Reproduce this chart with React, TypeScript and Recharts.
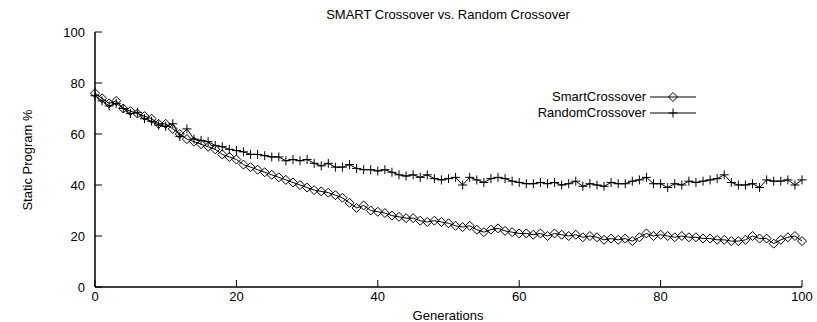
import React from 'react';
import { LineChart, Line, XAxis, YAxis } from 'recharts';

const generations = Array.from({ length: 101 }, (_, i) => i);

const smartValues = [
  76, 74, 72, 73, 70, 69, 68, 67, 66, 64,
  64, 62, 60, 58, 57, 56, 55, 54, 52, 51,
  50, 48, 47, 46, 45, 44, 43, 42, 41, 40,
  39, 38, 37.5, 37, 36, 35, 33, 31, 32, 30,
  29.5, 29, 28, 27.5, 27, 27, 26, 25.5, 26, 25.5,
  25, 24, 23.5, 24, 22.5, 21.5, 22.5, 23, 22, 21.5,
  21, 21, 20.5, 21, 20, 21, 20.5, 20, 20.5, 19.5,
  20, 19.5, 18.5, 19, 18.5, 19, 18, 19.5, 21, 20,
  20.5, 20, 19.5, 20, 19.5, 19.5, 19, 19, 18.5, 18.5,
  18, 18, 18.5, 20, 19, 19, 17, 18.5, 19.5, 20,
  18,
];

const randomValues = [
  75, 73, 71, 72, 70, 68, 68.5, 66, 65, 63.5,
  63, 64, 59, 62, 58, 57.5, 57, 55.5, 55, 54,
  53.5, 53, 52, 52, 51.5, 51, 51, 49.5, 50, 49.5,
  50, 48.5, 47.5, 48.5, 47, 47, 48, 46.5, 46, 46,
  45.5, 46, 45, 44, 43.5, 44, 43, 44, 42.5, 42,
  42.5, 43, 40, 43, 42, 41, 42.5, 43, 42.5, 41.5,
  41, 40.5, 40.5, 41, 40.5, 41, 40, 40.5, 41.5, 39.5,
  40.5, 40, 39.5, 41, 40.5, 40.5, 41.5, 42, 43, 40.5,
  40.5, 39, 40.5, 40, 41.5, 41, 41.5, 42, 42.5, 44,
  41, 40, 40, 40.5, 39, 42, 41.5, 41.5, 42, 40,
  42,
];

const xTicks = [0, 20, 40, 60, 80, 100];
const yTicks = [0, 20, 40, 60, 80, 100];

const data = generations.map((g, i) => ({
  gen: g,
  smart: smartValues[i],
  random: randomValues[i],
}));

const FONT = '"Liberation Sans", Arial, Helvetica, sans-serif';
const TICK = 7;

const BottomTick = (props: any) => {
  const { x, y, payload } = props;
  return (
    <g>
      <line x1={x} x2={x} y1={y} y2={y - TICK} stroke="#000" />
      <text x={x} y={y + 14} textAnchor="middle" fontSize={13} fontFamily={FONT} fill="#000">
        {payload.value}
      </text>
    </g>
  );
};

const TopTick = (props: any) => {
  const { x, y } = props;
  return <line x1={x} x2={x} y1={y} y2={y + TICK} stroke="#000" />;
};

const LeftTick = (props: any) => {
  const { x, y, payload } = props;
  return (
    <g>
      <line x1={x} x2={x + TICK} y1={y} y2={y} stroke="#000" />
      <text x={x - 10} y={y + 4.5} textAnchor="end" fontSize={13} fontFamily={FONT} fill="#000">
        {payload.value}
      </text>
    </g>
  );
};

const RightTick = (props: any) => {
  const { x, y } = props;
  return <line x1={x} x2={x - TICK} y1={y} y2={y} stroke="#000" />;
};

const Diamond = (props: any) => {
  const { cx, cy } = props;
  if (cx == null || cy == null) return null;
  const r = 4.5;
  return (
    <path
      d={`M${cx},${cy - r}L${cx + r},${cy}L${cx},${cy + r}L${cx - r},${cy}Z`}
      fill="none"
      stroke="#000"
      strokeWidth={1}
    />
  );
};

const Plus = (props: any) => {
  const { cx, cy } = props;
  if (cx == null || cy == null) return null;
  const r = 4.5;
  return (
    <path
      d={`M${cx - r},${cy}L${cx + r},${cy}M${cx},${cy - r}L${cx},${cy + r}`}
      stroke="#000"
      strokeWidth={1}
    />
  );
};

// title, y label and key drawn at fixed spots, gnuplot style
const Decorations = () => (
  <g>
    <text
      x={32}
      y={160}
      textAnchor="middle"
      fontSize={13}
      fontFamily={FONT}
      transform="rotate(-90 32 160)"
    >
      Static Program %
    </text>
    <text x={448} y={19} textAnchor="middle" fontSize={13} fontFamily={FONT}>
      SMART Crossover vs. Random Crossover
    </text>
    <text x={646} y={101} textAnchor="end" fontSize={13} fontFamily={FONT}>SmartCrossover</text>
    <line x1={650} x2={696} y1={97} y2={97} stroke="#000" />
    <Diamond cx={673} cy={97} />
    <text x={646} y={117} textAnchor="end" fontSize={13} fontFamily={FONT}>RandomCrossover</text>
    <line x1={650} x2={696} y1={113} y2={113} stroke="#000" />
    <Plus cx={673} cy={113} />
  </g>
);

export default function App() {
  return (
    <div style={{ position: 'absolute', left: 0, top: 0, width: 817, height: 322, background: '#fff' }}>
      <LineChart
        width={817}
        height={322}
        data={data}
        margin={{ top: 32, right: 15, bottom: 0, left: 0 }}
      >
        <XAxis
          dataKey="gen"
          type="number"
          domain={[0, 100]}
          ticks={xTicks}
          tick={<BottomTick />}
          tickLine={false}
          tickSize={0}
          tickMargin={0}
          height={35}
          axisLine={{ stroke: '#000', strokeWidth: 1.5 }}
          label={{
            content: () => (
              <text x={448} y={320} textAnchor="middle" fontSize={13} fontFamily={FONT}>
                Generations
              </text>
            ),
          }}
        />
        <XAxis
          xAxisId="top"
          dataKey="gen"
          type="number"
          orientation="top"
          domain={[0, 100]}
          ticks={xTicks}
          tick={<TopTick />}
          tickLine={false}
          tickSize={0}
          tickMargin={0}
          height={0}
          axisLine={{ stroke: '#000', strokeWidth: 1.5 }}
        />
        <YAxis
          type="number"
          domain={[0, 100]}
          ticks={yTicks}
          tick={<LeftTick />}
          tickLine={false}
          tickSize={0}
          tickMargin={0}
          width={95}
          axisLine={{ stroke: '#000', strokeWidth: 1.5 }}
          label={{ content: () => <Decorations /> }}
        />
        <YAxis
          yAxisId="right"
          orientation="right"
          type="number"
          domain={[0, 100]}
          ticks={yTicks}
          tick={<RightTick />}
          tickLine={false}
          tickSize={0}
          tickMargin={0}
          width={0}
          axisLine={{ stroke: '#000', strokeWidth: 1.5 }}
        />
        <Line
          type="linear"
          dataKey="smart"
          stroke="#000"
          strokeWidth={1}
          dot={<Diamond />}
          activeDot={false}
          isAnimationActive={false}
        />
        <Line
          type="linear"
          dataKey="random"
          stroke="#000"
          strokeWidth={1}
          dot={<Plus />}
          activeDot={false}
          isAnimationActive={false}
        />
      </LineChart>
    </div>
  );
}
